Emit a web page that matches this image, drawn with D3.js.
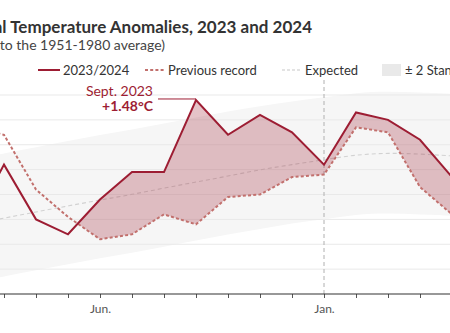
<!DOCTYPE html>
<html>
<head>
<meta charset="utf-8">
<script src="https://cdn.jsdelivr.net/npm/d3@7"></script>
<style>
  html, body { margin: 0; padding: 0; background: #fff; }
  svg { display: block; font-family: Lato, "Open Sans", sans-serif; }
</style>
</head>
<body>
<svg id="chart" width="450" height="333"></svg>
<script>
// ---- data ----
const months = ["2023-02","2023-03","2023-04","2023-05","2023-06","2023-07","2023-08","2023-09",
                "2023-10","2023-11","2023-12","2024-01","2024-02","2024-03","2024-04","2024-05"];
const current = [0.98, 1.22, 1.00, 0.94, 1.08, 1.19, 1.19, 1.48, 1.34, 1.42, 1.35, 1.22, 1.43, 1.40, 1.32, 1.17];
const previousRecord = [1.37, 1.34, 1.12, 1.01, 0.92, 0.94, 1.02, 0.98, 1.09, 1.10, 1.17, 1.18, 1.37, 1.35, 1.13, 1.02];
const expected = [0.98, 1.005, 1.03, 1.054, 1.078, 1.10, 1.126, 1.15, 1.174, 1.20, 1.22, 1.24, 1.26, 1.267, 1.263, 1.255];
const bandHigh = [1.24, 1.265, 1.29, 1.315, 1.34, 1.36, 1.385, 1.41, 1.435, 1.455, 1.475, 1.49, 1.51, 1.515, 1.51, 1.505];
const bandLow  = [0.745, 0.77, 0.795, 0.82, 0.845, 0.865, 0.89, 0.915, 0.94, 0.96, 0.985, 1.0, 1.02, 1.025, 1.02, 1.015];
const gridValues = [0.8, 0.9, 1.0, 1.1, 1.2, 1.3, 1.4, 1.5];
const tickLabelMonths = ["2023-06", "2024-01"];
const tickLabels = ["Jun.", "Jan."];
const yearBreak = "2024-01";
const annotationMonth = "2023-09";
const annotationLines = ["Sept. 2023", "+1.48°C"];
const legendLabels = ["2023/2024", "Previous record", "Expected", "± 2 Standard deviations"];
const titleText = "Global Temperature Anomalies, 2023 and 2024";
const subtitleText = "(°C relative to the 1951-1980 average)";

// ---- colors ----
const RED = "#9d1d33";
const RED_DASH = "#c2706d";
const FILL = "rgba(160,35,50,0.27)";
const BAND = "#f6f6f6";

const svg = d3.select("#chart");
const W = 450, H = 333;

const x = d3.scalePoint().domain(months).range([-28, 452]);
const y = d3.scaleLinear().domain([0.7, 1.5]).range([294, 95]);

const rows = months.map((m, i) => ({
  m, cur: current[i], prev: previousRecord[i], exp: expected[i], hi: bandHigh[i], lo: bandLow[i]
}));

// title
svg.append("text").attr("x", 312).attr("y", 33).attr("text-anchor", "end")
  .attr("font-size", 17).attr("font-weight", 700).attr("fill", "#333").text(titleText);
svg.append("text").attr("x", 165).attr("y", 50).attr("text-anchor", "end")
  .attr("font-size", 14).attr("fill", "#444").text(subtitleText);

// band
svg.append("path").datum(rows)
  .attr("d", d3.area().x(d => x(d.m)).y0(d => y(d.lo)).y1(d => y(d.hi)).curve(d3.curveBasis))
  .attr("fill", BAND);

// grid
svg.append("g").selectAll("line").data(gridValues).join("line")
  .attr("x1", 0).attr("x2", W).attr("y1", d => y(d)).attr("y2", d => y(d))
  .attr("stroke", "#e9e9e9").attr("stroke-width", 1);

// vertical year line
svg.append("line").attr("x1", x(yearBreak)).attr("x2", x(yearBreak))
  .attr("y1", 80).attr("y2", y(0.7))
  .attr("stroke", "#b0b0b0").attr("stroke-dasharray", "4,3").attr("stroke-width", 1);

// expected line
svg.append("path").datum(rows)
  .attr("d", d3.line().x(d => x(d.m)).y(d => y(d.exp)).curve(d3.curveBasis))
  .attr("fill", "none").attr("stroke", "#d2d2d2").attr("stroke-width", 1.1)
  .attr("stroke-dasharray", "4,3");

// fill where current above previous record
const defs = svg.append("defs");
defs.append("clipPath").attr("id", "belowCur").append("path").datum(rows)
  .attr("d", d3.area().x(d => x(d.m)).y0(H).y1(d => y(d.cur)));
svg.append("path").datum(rows)
  .attr("clip-path", "url(#belowCur)")
  .attr("d", d3.area().x(d => x(d.m)).y0(0).y1(d => y(d.prev)))
  .attr("fill", FILL);

// previous record line
svg.append("path").datum(rows)
  .attr("d", d3.line().x(d => x(d.m)).y(d => y(d.prev)))
  .attr("fill", "none").attr("stroke", RED_DASH).attr("stroke-width", 2)
  .attr("stroke-dasharray", "3,2.2");

// current line
svg.append("path").datum(rows)
  .attr("d", d3.line().x(d => x(d.m)).y(d => y(d.cur)))
  .attr("fill", "none").attr("stroke", RED).attr("stroke-width", 2)
  .attr("stroke-linejoin", "miter");

// x axis
const axis = d3.axisBottom(x).tickSize(4).tickPadding(6)
  .tickFormat(m => { const k = tickLabelMonths.indexOf(m); return k >= 0 ? tickLabels[k] : ""; });
const gx = svg.append("g").attr("transform", `translate(0,${y(0.7)})`).call(axis);
gx.select(".domain").remove();
gx.append("line").attr("x1", 0).attr("x2", W).attr("stroke", "#333").attr("stroke-width", 1.2);
gx.selectAll(".tick line").attr("stroke", "#555");
gx.selectAll(".tick text").attr("font-family", "Lato, sans-serif").attr("font-size", 12).attr("fill", "#555");

// annotation
const ax = x(annotationMonth), ay = y(current[months.indexOf(annotationMonth)]);
svg.append("line").attr("x1", 158).attr("x2", ax).attr("y1", ay - 1).attr("y2", ay - 1)
  .attr("stroke", RED).attr("stroke-width", 1);
svg.append("text").attr("x", 153).attr("y", 96).attr("text-anchor", "end")
  .attr("font-size", 14).attr("fill", RED).text(annotationLines[0]);
svg.append("text").attr("x", 153).attr("y", 111).attr("text-anchor", "end")
  .attr("font-size", 14).attr("font-weight", 700).attr("fill", RED).text(annotationLines[1]);

// legend
const lg = svg.append("g").attr("font-size", 13).attr("fill", "#333");
lg.append("line").attr("x1", 38).attr("x2", 60).attr("y1", 70).attr("y2", 70)
  .attr("stroke", RED).attr("stroke-width", 2);
lg.append("text").attr("x", 63).attr("y", 74.5).text(legendLabels[0]);
lg.append("line").attr("x1", 145).attr("x2", 164).attr("y1", 70).attr("y2", 70)
  .attr("stroke", RED_DASH).attr("stroke-width", 2).attr("stroke-dasharray", "3,2.2");
lg.append("text").attr("x", 168).attr("y", 74.5).text(legendLabels[1]);
lg.append("line").attr("x1", 282).attr("x2", 302).attr("y1", 70).attr("y2", 70)
  .attr("stroke", "#c8c8c8").attr("stroke-width", 1.2).attr("stroke-dasharray", "3,2");
lg.append("text").attr("x", 305).attr("y", 74.5).text(legendLabels[2]);
lg.append("rect").attr("x", 382).attr("y", 64).attr("width", 19).attr("height", 12).attr("fill", "#e9e9e9");
lg.append("text").attr("x", 405).attr("y", 74.5).text(legendLabels[3]);
</script>
</body>
</html>
